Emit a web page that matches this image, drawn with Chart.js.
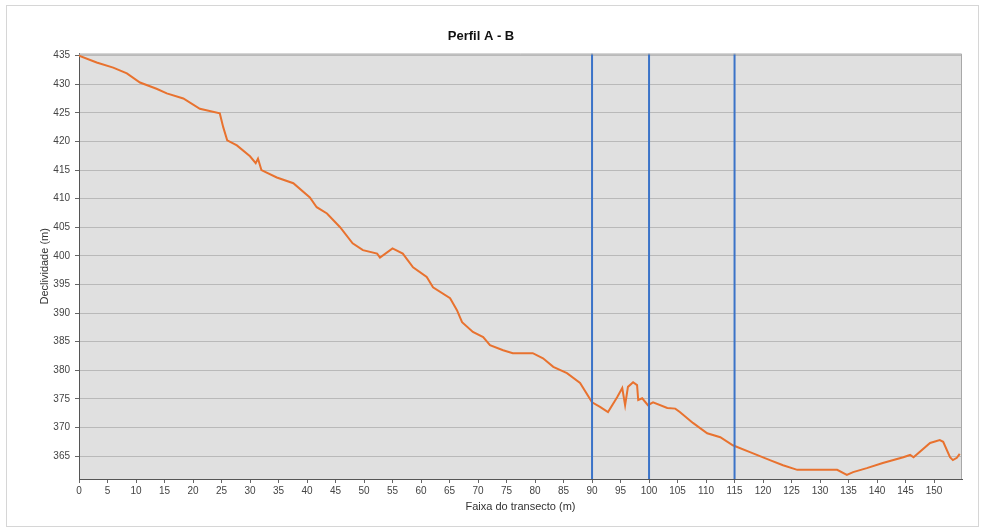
<!DOCTYPE html>
<html>
<head>
<meta charset="utf-8">
<title>Perfil A - B</title>
<script src="https://cdn.jsdelivr.net/npm/chart.js@4/dist/chart.umd.min.js"></script>
<style>
  html, body { margin: 0; padding: 0; background: #fff; }
  canvas { display: block; }
</style>
</head>
<body>
<canvas id="perfil" width="982" height="532"></canvas>
<script>
// ─── data ────────────────────────────────────────────────────────────────────
const distancia = [
  0, 3.1, 6, 8.4, 10.7, 13.6, 15.4, 18.3, 21.2, 24.7, 25.3, 26, 27.7, 30, 31, 31.4, 32,
  34.7, 37.6, 40.5, 41.7, 43.5, 45.8, 48, 49.8, 52.3, 52.8, 55, 56.8, 58.6, 61, 62.1,
  65.1, 66.3, 67.2, 69.1, 70.9, 72.1, 74.4, 76.1, 79.6, 81.4, 83.2, 85.6, 87.9, 90,
  91.4, 92.8, 94.4, 95.3, 95.8, 96.3, 97.2, 97.9, 98.1, 98.8, 99.8, 100.7, 103.2,
  104.6, 105.4, 107.7, 110.2, 112.5, 114.7, 117.7, 121.2, 123.5, 126, 133, 134.7,
  135.8, 138.2, 141, 144.6, 145.8, 146.4, 149.3, 151, 151.6, 152.8, 153.3, 154, 154.5
];
const cota = [
  435, 433.8, 432.9, 431.9, 430.3, 429.2, 428.4, 427.5, 425.7, 424.9, 422.5, 420.2, 419.3, 417.4, 416.2, 417.0, 415.0,
  413.7, 412.7, 410.2, 408.5, 407.4, 405, 402.2, 401, 400.4, 399.7, 401.3, 400.4, 398, 396.3, 394.5,
  392.6, 390.5, 388.4, 386.7, 385.8, 384.4, 383.5, 383, 383, 382.1, 380.6, 379.5, 377.8, 374.4,
  373.6, 372.7, 375.3, 376.9, 373.9, 377.1, 377.9, 377.4, 374.8, 375.1, 373.9, 374.4, 373.4,
  373.3, 372.7, 370.8, 369, 368.3, 366.9, 365.7, 364.3, 363.4, 362.6, 362.6, 361.7,
  362.2, 362.9, 363.8, 364.8, 365.2, 364.8, 367.3, 367.8, 367.5, 364.8, 364.3, 364.7, 365.4
];
const marcos = [90, 100, 115];          // vertical reference lines
const xTicks = [];
for (let v = 0; v <= 150; v += 5) xTicks.push(v);
const yTicks = [365, 370, 375, 380, 385, 390, 395, 400, 405, 410, 415, 420, 425, 430, 435];
const X_MAX = 154.9, Y_MIN = 361, Y_MAX = 435.35;

// ─── plugins: frame + plot background ───────────────────────────────────────
const fundo = {
  id: 'fundo',
  beforeDraw(chart) {
    const { ctx, chartArea: a } = chart;
    ctx.save();
    ctx.strokeStyle = '#d6d6d6';
    ctx.lineWidth = 1;
    ctx.strokeRect(6.5, 5.5, 972, 521);
    ctx.fillStyle = '#e0e0e0';
    ctx.fillRect(a.left, a.top, a.right - a.left, a.bottom - a.top);
    ctx.restore();
  },
  afterDatasetsDraw(chart) {
    const { ctx, chartArea: a } = chart;
    ctx.save();
    ctx.strokeStyle = '#a8a8a8';
    ctx.lineWidth = 1;
    ctx.beginPath();
    ctx.moveTo(a.left, a.top + 0.5);
    ctx.lineTo(a.right - 0.5, a.top + 0.5);
    ctx.lineTo(a.right - 0.5, a.bottom);
    ctx.stroke();
    ctx.restore();
  }
};

const linhasMarco = marcos.map(m => ({
  data: [{ x: m, y: Y_MIN }, { x: m, y: Y_MAX }],
  showLine: true,
  borderColor: '#3b73c8',
  borderWidth: 2,
  pointRadius: 0,
  order: 0,
}));

new Chart(document.getElementById('perfil'), {
  type: 'scatter',
  data: {
    datasets: [
      ...linhasMarco,
      {
        data: distancia.map((d, i) => ({ x: d, y: cota[i] })),
        showLine: true,
        borderColor: '#e8722f',
        borderWidth: 2,
        pointRadius: 0,
        tension: 0,
        order: 1,
      },
    ],
  },
  options: {
    responsive: false,
    animation: false,
    events: [],
    layout: { padding: { left: 0, right: 20, top: 0, bottom: 0 } },
    plugins: {
      legend: { display: false },
      tooltip: { enabled: false },
      title: {
        display: true,
        text: 'Perfil A - B',
        color: '#111',
        font: { family: 'Liberation Sans', size: 13, weight: 'bold' },
        padding: { top: 29, bottom: 9 },
      },
    },
    scales: {
      x: {
        type: 'linear',
        min: 0, max: X_MAX,
        afterBuildTicks: s => { s.ticks = xTicks.map(v => ({ value: v })); },
        afterFit: s => { s.height = 53; },
        border: { color: '#555', width: 1 },
        grid: { drawOnChartArea: false, drawTicks: true, tickLength: 4, tickColor: '#666' },
        ticks: { color: '#444', font: { family: 'Liberation Sans', size: 10 }, padding: 2, maxRotation: 0, autoSkip: false },
        title: {
          display: true, text: 'Faixa do transecto (m)', color: '#333',
          font: { family: 'Liberation Sans', size: 11 }, padding: { top: 0, bottom: 18 },
        },
      },
      y: {
        type: 'linear',
        min: Y_MIN, max: Y_MAX,
        afterBuildTicks: s => { s.ticks = yTicks.map(v => ({ value: v })); },
        afterFit: s => { s.width = 79; },
        border: { color: '#555', width: 1 },
        grid: { color: '#b9b9b9', lineWidth: 1, drawTicks: true, tickLength: 4, tickColor: '#666' },
        ticks: { color: '#444', font: { family: 'Liberation Sans', size: 10 }, padding: 5 },
        title: {
          display: true, text: 'Declividade (m)', color: '#333',
          font: { family: 'Liberation Sans', size: 11 }, padding: { top: 38, bottom: 0 },
        },
      },
    },
  },
  plugins: [fundo],
});
</script>
</body>
</html>
